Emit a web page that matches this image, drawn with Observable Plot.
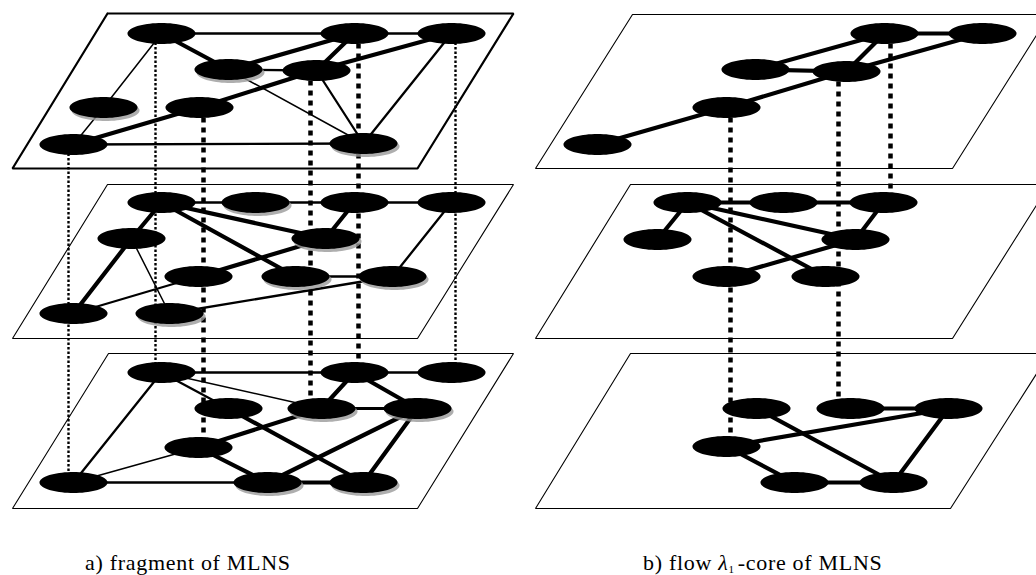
<!DOCTYPE html>
<html><head><meta charset="utf-8">
<script src="https://cdn.jsdelivr.net/npm/d3@7"></script>
<script src="https://cdn.jsdelivr.net/npm/@observablehq/plot@0.6"></script>
<style>
body{margin:0;background:#fff;}
#fig{position:relative;width:1036px;height:575px;overflow:hidden;background:#fff;}
#cap{position:relative;height:45px;font-family:"Liberation Serif","Times New Roman",serif;font-size:22px;letter-spacing:0.7px;color:#000;}
#cap span{position:absolute;top:22px;white-space:nowrap;line-height:22px;}
#cap sub{font-size:11px;vertical-align:-3px;margin-right:3px;}
</style></head><body>
<div id="fig"><div id="chart"></div><div id="cap"></div></div>
<script>
// ---- captions ----
const captionLeft = "a) fragment of MLNS";
const captionRightParts = ["b) flow ", "λ", "1", "-core of MLNS"];

// ---- layer planes (panel a: layers 1..3, panel b: layers 1..3) ----
const planeIds        = ["A1","A2","A3","B1","B2","B3"];
const planeTopY       = [13, 184, 353, 14, 184, 353];
const planeBottomY    = [168, 338, 508, 168, 338, 508];
const planeTopLeftX   = [107, 107, 108, 632, 630, 630];
const planeTopRightX  = [513, 513, 513, 1049, 1049, 1049];
const planeBotRightX  = [417, 417, 417, 952, 952, 950];
const planeBotLeftX   = [12, 12, 12, 535, 535, 535];
const planeBold       = ["A1"];

// ---- nodes: [id, x, y] ----
const nodesA1 = [["a",161,33],["b",354,33],["c",451,33],["d",228,69],["e",316,70],["f",103,107],["g",199,107],["h",73,144],["i",363,143]];
const nodesA2 = [["a",161,202],["b",255,202],["c",354,202],["d",451,202],["e",131,238],["f",325,238],["g",198,276],["h",295,276],["i",392,276],["j",73,313],["k",169,313]];
const nodesA3 = [["a",161,372],["b",354,372],["c",451,372],["d",228,408],["e",321,408],["f",417,408],["g",198,447],["h",73,482],["i",267,482],["j",363,482]];
const nodesB1 = [["a",884,33],["b",982,33],["c",755,69],["d",846,71],["e",726,107],["f",597,144]];
const nodesB2 = [["a",687,202],["b",783,202],["c",883,202],["d",657,239],["e",855,239],["f",726,276],["g",825,276]];
const nodesB3 = [["a",756,408],["b",850,408],["c",948,408],["d",726,446],["e",794,482],["f",893,482]];
const shadowed = ["A1d","A1f","A1i","A2b","A2f","A2h","A2i","A2k","A3e","A3f","A3i","A3j"];

// ---- intra-layer edges: [from, to, weight 1..3] ----
const edgesA1 = [["a","b",2],["b","c",2],["a","d",3],["d","b",3],["d","e",2],["e","b",3],["e","c",3],["a","f",1],["g","e",3],["h","g",3],["f","h",1],["h","i",2],["d","i",1],["e","i",2],["c","i",2]];
const edgesA2 = [["a","b",2],["b","c",2],["c","d",2],["a","e",3],["a","f",3],["a","h",3],["c","f",3],["f","g",3],["h","i",2],["d","i",2],["e","j",3],["e","k",1.5],["j","g",2],["k","i",2]];
const edgesA3 = [["a","b",2],["b","c",2],["a","d",2],["a","e",1.5],["a","h",2],["b","e",3],["b","f",3],["e","f",2.5],["e","g",3],["d","j",3],["f","i",3],["f","j",3],["g","h",1.5],["g","i",3],["h","i",2],["i","j",3]];
const edgesB1 = [["a","b",3],["c","a",3],["c","d",3],["d","a",3],["d","b",3],["e","d",3],["f","e",3]];
const edgesB2 = [["a","b",3],["b","c",3],["a","d",3],["a","e",3],["a","g",3],["c","e",3],["e","f",3]];
const edgesB3 = [["b","c",3],["a","f",3],["d","c",3],["c","f",3],["d","e",3],["e","f",3]];

// ---- inter-layer links: [x, fromNode, toNode, kind] ----
const interLinks = [
  [68,"A1h","A3h","thin"],[155,"A1a","A3a","thin"],[203,"A1g","A3g","thick"],
  [310,"A1e","A3e","thick"],[358,"A1b","A3b","thick"],[455,"A1c","A3c","thin"],
  [730,"B1e","B3d","thick"],[838,"B1d","B3b","thick"],[890,"B1a","B2c","thick"]
];

// ---- build tables ----
const layers = {A1:[nodesA1,edgesA1],A2:[nodesA2,edgesA2],A3:[nodesA3,edgesA3],B1:[nodesB1,edgesB1],B2:[nodesB2,edgesB2],B3:[nodesB3,edgesB3]};
const nodes = [], edges = [], byId = {};
for (const [lid,[ns,es]] of Object.entries(layers)) {
  for (const [id,x,y] of ns) { const n = {id: lid+id, x, y, shadow: shadowed.includes(lid+id)}; nodes.push(n); byId[n.id] = n; }
  for (const [s,t,w] of es) edges.push({s: byId[lid+s], t: byId[lid+t], w});
}
const planePts = [];
planeIds.forEach((id,i) => {
  const pts = [[planeTopLeftX[i],planeTopY[i]],[planeTopRightX[i],planeTopY[i]],[planeBotRightX[i],planeBottomY[i]],[planeBotLeftX[i],planeBottomY[i]],[planeTopLeftX[i],planeTopY[i]]];
  for (const [x,y] of pts) planePts.push({id, x, y, bold: planeBold.includes(id)});
});
const inter = interLinks.map(([x,a,b,kind]) => ({x, y1: byId[a].y, y2: byId[b].y, kind}));

const widthOf = w => w >= 3 ? 4.2 : w >= 2.5 ? 3 : w >= 2 ? 2.3 : 1.5;
const ellipse = {draw(ctx){ const rx=34, ry=10.5, n=72; for(let i=0;i<n;i++){const t=i/n*2*Math.PI; const px=rx*Math.cos(t), py=ry*Math.sin(t); if(i) ctx.lineTo(px,py); else ctx.moveTo(px,py);} ctx.closePath(); }};

const H = 530;
const chart = Plot.plot({
  width: 1036, height: H,
  margin: 0, marginTop:0, marginBottom:0, marginLeft:0, marginRight:0,
  x: {domain:[0,1036], range:[0,1036], axis:null},
  y: {domain:[0,H], range:[0,H], axis:null},
  style: {background:"#fff"},
  marks: [
    Plot.line(planePts.filter(d=>!d.bold), {x:"x", y:"y", z:"id", stroke:"#000", strokeWidth:1.1, strokeLinejoin:"miter"}),
    Plot.line(planePts.filter(d=>d.bold), {x:"x", y:"y", z:"id", stroke:"#000", strokeWidth:2.2, strokeLinejoin:"miter"}),
    Plot.link(edges, {x1:d=>d.s.x, y1:d=>d.s.y, x2:d=>d.t.x, y2:d=>d.t.y, stroke:"#000", strokeWidth:d=>widthOf(d.w), strokeLinecap:"round"}),
    Plot.link(inter.filter(d=>d.kind==="thin"), {x1:"x", x2:"x", y1:"y1", y2:"y2", stroke:"#000", strokeWidth:2.4, strokeDasharray:"2.5,2"}),
    Plot.link(inter.filter(d=>d.kind==="thick"), {x1:"x", x2:"x", y1:"y1", y2:"y2", stroke:"#000", strokeWidth:4.5, strokeDasharray:"5,5"}),
    Plot.dot(nodes.filter(d=>d.shadow), {x:d=>d.x+2, y:d=>d.y+3, symbol:ellipse, fill:"#9a9a9a", fillOpacity:0.8, stroke:"none"}),
    Plot.dot(nodes, {x:"x", y:"y", symbol:ellipse, fill:"#000", stroke:"none"})
  ]
});
document.getElementById("chart").appendChild(chart);

const cap = document.getElementById("cap");
const s1 = document.createElement("span"); s1.style.left = "85px"; s1.textContent = captionLeft; cap.appendChild(s1);
const s2 = document.createElement("span"); s2.style.left = "643px";
s2.appendChild(document.createTextNode(captionRightParts[0]));
const it = document.createElement("i"); it.textContent = captionRightParts[1]; s2.appendChild(it);
const sb = document.createElement("sub"); sb.textContent = captionRightParts[2]; s2.appendChild(sb);
s2.appendChild(document.createTextNode(captionRightParts[3]));
cap.appendChild(s2);
</script>
</body></html>
